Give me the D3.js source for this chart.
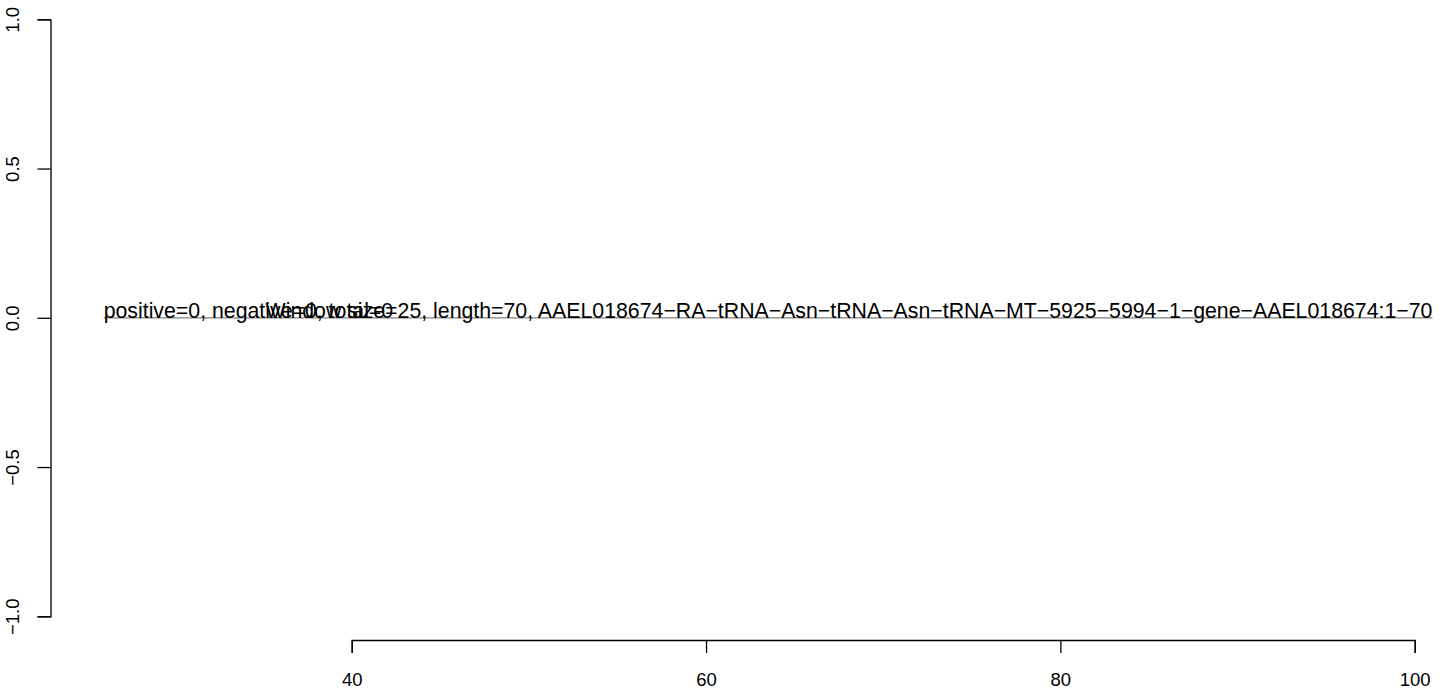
<!DOCTYPE html>
<html>
<head>
<meta charset="utf-8">
<style>
body { margin: 0; background: #fff; }
text { font-family: 'Liberation Sans', Arial, Helvetica, sans-serif; }
</style>
</head>
<body>
<script src="https://d3js.org/d3.v7.min.js"></script>
<script>
// data
const xTicks = [40, 60, 80, 100];
const yTicks = [-1, -0.5, 0, 0.5, 1];
const segX = [26, 101];
const segY = 0;
const leftLabel = "positive=0, negative=0, total=0";
const rightLabel = "Window size=25, length=70, AAEL018674\u2212RA\u2212tRNA\u2212Asn\u2212tRNA\u2212Asn\u2212tRNA\u2212MT\u22125925\u22125994\u22121\u2212gene\u2212AAEL018674:1\u221270";

const width = 1444, height = 691;
const axisFont = 18.5;
const labelFont = 21.3;

const svg = d3.select("body").append("svg")
    .attr("width", width)
    .attr("height", height);

// scales: ticks mapped where R drew them
const x = d3.scaleLinear().domain([40, 100]).range([351.7, 1414.7]);
const y = d3.scaleLinear().domain([-1, 1]).range([616.3, 19.3]);

const fmtY = d => (d < 0 ? "\u2212" : "") + Math.abs(d).toFixed(1);

// x axis
const xAxis = svg.append("g")
    .attr("transform", "translate(0,640)")
    .call(d3.axisBottom(x).tickValues(xTicks).tickSize(13).tickSizeOuter(13).tickPadding(20).tickFormat(d3.format("d")));

// y axis
const yAxis = svg.append("g")
    .attr("transform", "translate(50.5,0)")
    .call(d3.axisLeft(y).tickValues(yTicks).tickSize(13).tickSizeOuter(13).tickFormat(fmtY));

[xAxis, yAxis].forEach(g => {
  g.selectAll("path, line").attr("stroke", "#000").attr("stroke-width", 1.3);
  g.selectAll("text").attr("font-size", axisFont).attr("fill", "#000")
    .style("font-family", "'Liberation Sans', Arial, Helvetica, sans-serif");
});

yAxis.selectAll(".tick text")
    .attr("x", null).attr("dy", null)
    .attr("text-anchor", "middle")
    .attr("transform", "translate(-38,0) rotate(-90)")
    .attr("dy", "0.35em");

// grey segment at y = 0
svg.append("line")
    .attr("x1", x(segX[0]))
    .attr("x2", x(segX[1]))
    .attr("y1", y(segY))
    .attr("y2", y(segY))
    .attr("stroke", "#808080")
    .attr("stroke-width", 1.3);

// labels
svg.append("text")
    .attr("x", x(segX[0]))
    .attr("y", y(segY))
    .attr("font-size", labelFont)
    .attr("fill", "#000")
    .text(leftLabel);

svg.append("text")
    .attr("x", x(segX[1]))
    .attr("y", y(segY))
    .attr("text-anchor", "end")
    .attr("font-size", labelFont)
    .attr("fill", "#000")
    .text(rightLabel);
</script>
</body>
</html>
